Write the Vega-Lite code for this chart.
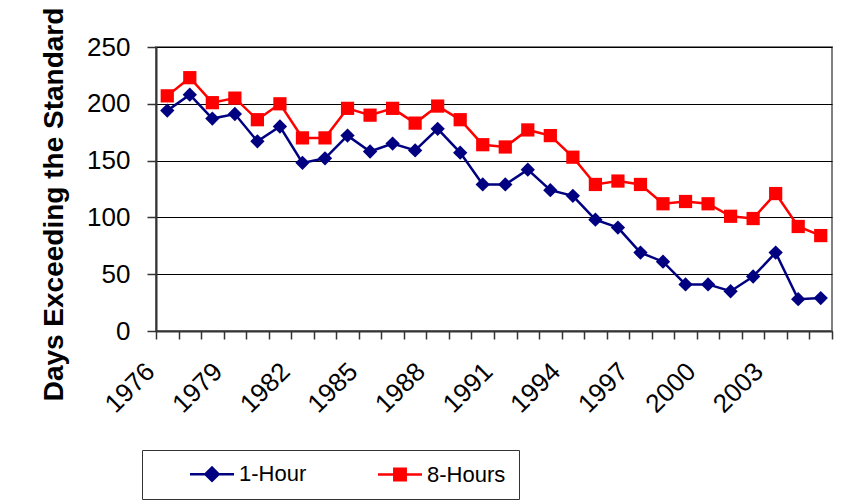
{
  "$schema": "https://vega.github.io/schema/vega-lite/v6.json",
  "width": 676,
  "height": 284,
  "autosize": {"type": "none"},
  "padding": {"left": 156, "top": 47, "right": 13, "bottom": 173},
  "background": "white",
  "data": {
    "values": [
      {"year": 1976, "series": "1-Hour", "days": 194},
      {"year": 1977, "series": "1-Hour", "days": 208},
      {"year": 1978, "series": "1-Hour", "days": 187},
      {"year": 1979, "series": "1-Hour", "days": 191},
      {"year": 1980, "series": "1-Hour", "days": 167},
      {"year": 1981, "series": "1-Hour", "days": 180},
      {"year": 1982, "series": "1-Hour", "days": 148},
      {"year": 1983, "series": "1-Hour", "days": 152},
      {"year": 1984, "series": "1-Hour", "days": 172},
      {"year": 1985, "series": "1-Hour", "days": 158},
      {"year": 1986, "series": "1-Hour", "days": 165},
      {"year": 1987, "series": "1-Hour", "days": 159},
      {"year": 1988, "series": "1-Hour", "days": 178},
      {"year": 1989, "series": "1-Hour", "days": 157},
      {"year": 1990, "series": "1-Hour", "days": 129},
      {"year": 1991, "series": "1-Hour", "days": 129},
      {"year": 1992, "series": "1-Hour", "days": 142},
      {"year": 1993, "series": "1-Hour", "days": 124},
      {"year": 1994, "series": "1-Hour", "days": 119},
      {"year": 1995, "series": "1-Hour", "days": 98},
      {"year": 1996, "series": "1-Hour", "days": 91},
      {"year": 1997, "series": "1-Hour", "days": 69},
      {"year": 1998, "series": "1-Hour", "days": 61},
      {"year": 1999, "series": "1-Hour", "days": 41},
      {"year": 2000, "series": "1-Hour", "days": 41},
      {"year": 2001, "series": "1-Hour", "days": 35},
      {"year": 2002, "series": "1-Hour", "days": 48},
      {"year": 2003, "series": "1-Hour", "days": 69},
      {"year": 2004, "series": "1-Hour", "days": 28},
      {"year": 2005, "series": "1-Hour", "days": 29},
      {"year": 1976, "series": "8-Hours", "days": 207},
      {"year": 1977, "series": "8-Hours", "days": 223},
      {"year": 1978, "series": "8-Hours", "days": 201},
      {"year": 1979, "series": "8-Hours", "days": 205},
      {"year": 1980, "series": "8-Hours", "days": 186},
      {"year": 1981, "series": "8-Hours", "days": 200},
      {"year": 1982, "series": "8-Hours", "days": 170},
      {"year": 1983, "series": "8-Hours", "days": 170},
      {"year": 1984, "series": "8-Hours", "days": 196},
      {"year": 1985, "series": "8-Hours", "days": 190},
      {"year": 1986, "series": "8-Hours", "days": 196},
      {"year": 1987, "series": "8-Hours", "days": 183},
      {"year": 1988, "series": "8-Hours", "days": 198},
      {"year": 1989, "series": "8-Hours", "days": 186},
      {"year": 1990, "series": "8-Hours", "days": 164},
      {"year": 1991, "series": "8-Hours", "days": 162},
      {"year": 1992, "series": "8-Hours", "days": 177},
      {"year": 1993, "series": "8-Hours", "days": 172},
      {"year": 1994, "series": "8-Hours", "days": 153},
      {"year": 1995, "series": "8-Hours", "days": 129},
      {"year": 1996, "series": "8-Hours", "days": 132},
      {"year": 1997, "series": "8-Hours", "days": 129},
      {"year": 1998, "series": "8-Hours", "days": 112},
      {"year": 1999, "series": "8-Hours", "days": 114},
      {"year": 2000, "series": "8-Hours", "days": 112},
      {"year": 2001, "series": "8-Hours", "days": 101},
      {"year": 2002, "series": "8-Hours", "days": 99},
      {"year": 2003, "series": "8-Hours", "days": 121},
      {"year": 2004, "series": "8-Hours", "days": 92},
      {"year": 2005, "series": "8-Hours", "days": 84}
    ]
  },
  "encoding": {
    "x": {
      "field": "year",
      "type": "quantitative",
      "scale": {"domain": [1975.5, 2005.5], "nice": false, "zero": false},
      "axis": {
        "title": null,
        "values": [1975.5, 1976.5, 1977.5, 1978.5, 1979.5, 1980.5, 1981.5, 1982.5, 1983.5, 1984.5, 1985.5, 1986.5, 1987.5, 1988.5, 1989.5, 1990.5, 1991.5, 1992.5, 1993.5, 1994.5, 1995.5, 1996.5, 1997.5, 1998.5, 1999.5, 2000.5, 2001.5, 2002.5, 2003.5, 2004.5, 2005.5],
        "labelExpr": "(datum.value - 1975.5) % 3 == 0 && datum.value < 2004 ? format(datum.value + 0.5, 'd') : ''",
        "labelAngle": -45,
        "labelAlign": "right",
        "labelBaseline": "top",
        "labelOffset": -15,
        "labelPadding": 19,
        "labelFontSize": 26,
        "labelOverlap": false,
        "labelFlush": false,
        "labelBound": false,
        "tickSize": 8,
        "grid": false
      }
    },
    "y": {
      "field": "days",
      "type": "quantitative",
      "scale": {"domain": [0, 250], "nice": false},
      "axis": {
        "title": "Days Exceeding the Standard",
        "titleFontSize": 28,
        "titleFontWeight": "bold",
        "titleX": -88,
        "titleY": 157,
        "values": [0, 50, 100, 150, 200, 250],
        "labelFontSize": 26,
        "labelPadding": 17,
        "tickSize": 9,
        "grid": true,
        "gridColor": "#000000",
        "gridWidth": 1
      }
    },
    "color": {
      "field": "series",
      "type": "nominal",
      "scale": {"domain": ["1-Hour", "8-Hours"], "range": ["#000080", "#FF0000"]},
      "legend": {
        "title": null,
        "orient": "none",
        "legendX": -14,
        "legendY": 403,
        "direction": "horizontal",
        "strokeColor": "#333333",
        "fillColor": "white",
        "padding": 13,
        "labelFontSize": 22,
        "labelColor": "#000000",
        "labelExpr": "datum.label == '8-Hours' ? '8-Hours       ' : datum.label",
        "symbolSize": 144,
        "labelOffset": 62,
        "columnPadding": 36,
        "encode": {
          "symbols": {
            "update": {
              "shape": {"signal": "datum.value === '1-Hour' ? 'M4,0L11.333,0M6.567,0L7.667,-1.1L8.767,0L7.667,1.1Z' : 'M4,0L11.333,0M6.717,-0.95L8.617,-0.95L8.617,0.95L6.717,0.95Z'"},
              "stroke": {"signal": "datum.value === '1-Hour' ? '#000080' : '#FF0000'"},
              "fill": {"signal": "datum.value === '1-Hour' ? '#000080' : '#FF0000'"},
              "strokeWidth": {"value": 2.5},
              "opacity": {"value": 1}
            }
          }
        }
      }
    }
  },
  "layer": [
    {"mark": {"type": "line", "strokeWidth": 2.5}},
    {
      "mark": {"type": "point", "filled": true, "opacity": 1},
      "encoding": {
        "shape": {"condition": {"test": "datum.series === '1-Hour'", "value": "diamond"}, "value": "square"},
        "size": {"condition": {"test": "datum.series === '1-Hour'", "value": 205}, "value": 175}
      }
    }
  ],
  "config": {
    "font": "Liberation Sans",
    "view": {"stroke": "#808080", "strokeWidth": 2},
    "axis": {
      "domainColor": "#333333",
      "domainWidth": 2,
      "tickColor": "#333333",
      "tickWidth": 1.5,
      "labelColor": "#000000",
      "titleColor": "#000000",
      "labelFont": "Liberation Sans",
      "titleFont": "Liberation Sans"
    }
  }
}
